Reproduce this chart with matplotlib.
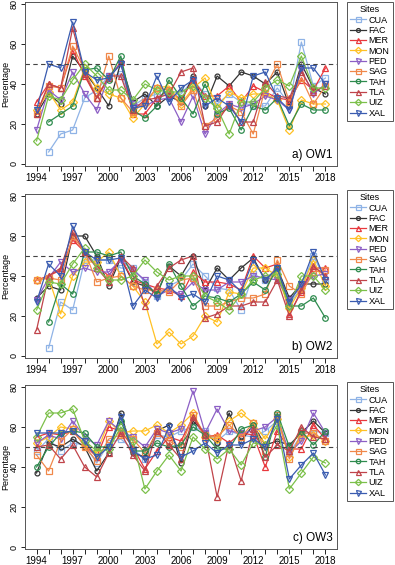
import numpy as np
import matplotlib
matplotlib.use("Agg")
import matplotlib.pyplot as plt

plt.rcParams['font.family'] = ['Liberation Sans', 'DejaVu Sans']

nan = np.nan
YEARS = list(range(1994, 2019))
SITES = ['CUA', 'FAC', 'MER', 'MON', 'PED', 'SAG', 'TAH', 'TLA', 'UIZ', 'XAL']
COLORS = ['#8fb3e6', '#333333', '#e8383d', '#ffc125', '#8c5fc5',
          '#f0884a', '#2e8b4e', '#c0444a', '#7cc04a', '#3a5cb0']
MARKERS = ['s', 'o', '^', 'D', 'v', 's', 'o', '^', 'D', 'v']
MSIZES = [4.5, 3.5, 4.5, 4, 4.5, 4.5, 4, 4.5, 4, 4.5]

# OW1
OW1_CUA = [nan, 6, 15, 17, 33, 37, 44, 45, 29, 33, 35, 34, 35, 42, 35, 30, 35, 31, 29, 29, 38, 30, 61, 39, 43]
OW1_FAC = [25, 35, 30, 54, 46, 38, 29, 51, 31, 35, 29, 34, 31, 44, 29, 44, 39, 46, 44, 40, 46, 29, 50, 38, 35]
OW1_MER = [31, 40, 38, 57, 44, 33, 43, 51, 25, 25, 33, 37, 32, 42, 34, 34, 39, 31, 39, 36, 33, 32, 42, 37, 48]
OW1_MON = [27, 36, 27, 31, 48, 38, 35, 33, 23, 30, 38, 39, 30, 38, 43, 28, 36, 33, 35, 35, 32, 17, 32, 30, 30]
OW1_PED = [17, 37, 32, 46, 35, 27, 44, 50, 30, 29, 32, 33, 21, 34, 15, 25, 30, 28, 30, 34, 32, 27, 47, 35, 40]
OW1_SAG = [25, 39, 38, 59, 47, 33, 54, 33, 26, 31, 38, 37, 29, 37, 19, 23, 29, 26, 15, 38, 50, 31, 43, 30, 39]
OW1_TAH = [nan, 21, 25, 29, 47, 48, 42, 54, 27, 23, 29, 42, 33, 25, 40, 25, 28, 17, 29, 27, 33, 19, 30, 27, 27]
OW1_TLA = [25, 40, 38, 68, 45, 33, 44, 44, 27, 32, 33, 35, 46, 48, 19, 21, 30, 21, 21, 41, 34, 33, 46, 36, 39]
OW1_UIZ = [11.5, 34, 32, 42, 50, 44, 37, 37, 32, 40, 37, 36, 36, 39, 33, 28, 15, 31, 31, 38, 42, 39, 54, 38, 38]
OW1_XAL = [27, 50, 48, 71, 46, 42, 43, 50, 28, 29, 44, 31, 38, 42, 29, 33, 29, 21, 44, 46, 33, 27, 48, 48, 40]

# OW2
OW2_CUA = [nan, 4, 27, 23, 48, 48, 48, 44, 44, 37, 30, 35, 38, 46, 40, 34, 33, 23, 41, 38, 42, 26, 34, 50, 38]
OW2_FAC = [29, 35, 33, 60, 60, 50, 35, 49, 37, 35, 31, 45, 40, 50, 33, 44, 38, 44, 49, 38, 44, 29, 36, 36, 36]
OW2_MER = [38, 40, 43, 58, 52, 45, 40, 49, 38, 36, 34, 33, 30, 42, 37, 37, 36, 33, 50, 44, 46, 21, 32, 44, 44]
OW2_MON = [38, 39, 21, 40, 47, 47, 52, 40, 35, 27, 6, 12, 6, 10, 20, 17, 32, 31, 44, 44, 40, 24, 34, 48, 35]
OW2_PED = [28, 39, 47, 42, 44, 42, 42, 48, 43, 38, 30, 33, 31, 37, 33, 33, 37, 37, 40, 39, 38, 28, 35, 40, 41]
OW2_SAG = [38, 39, 38, 60, 52, 37, 39, 40, 35, 33, 33, 32, 38, 39, 25, 25, 27, 29, 29, 31, 48, 35, 31, 42, 43]
OW2_TAH = [nan, 17, 36, 31, 52, 52, 50, 52, 40, 36, 31, 46, 35, 25, 30, 29, 27, 31, 37, 33, 44, 25, 25, 29, 19]
OW2_TLA = [13, 40, 44, 62, 52, 44, 37, 50, 44, 25, 35, 44, 48, 50, 19, 21, 25, 25, 27, 27, 38, 20, 33, 45, 40]
OW2_UIZ = [23, 37, 36, 46, 54, 44, 38, 38, 40, 48, 42, 38, 40, 40, 30, 27, 23, 31, 38, 40, 41, 25, 40, 40, 33]
OW2_XAL = [27, 46, 40, 65, 52, 48, 48, 49, 25, 33, 29, 35, 29, 31, 27, 40, 38, 32, 48, 38, 44, 27, 36, 52, 38]

# OW3
OW3_CUA = [48, 54, 48, 52, 51, 42, 52, 54, 49, 44, 56, 55, 58, 60, 58, 53, 58, 56, 55, 58, 63, 47, 56, 58, 57]
OW3_FAC = [37, 52, 50, 54, 50, 38, 47, 67, 47, 45, 58, 61, 42, 63, 57, 52, 67, 53, 61, 51, 53, 51, 57, 63, 57]
OW3_MER = [55, 57, 56, 58, 51, 45, 60, 58, 50, 39, 48, 55, 53, 65, 55, 56, 52, 57, 56, 40, 58, 49, 49, 61, 54]
OW3_MON = [52, 55, 60, 59, 51, 47, 63, 57, 58, 58, 61, 57, 61, 67, 55, 54, 63, 67, 62, 54, 64, 45, 55, 56, 53]
OW3_PED = [52, 56, 54, 63, 55, 51, 63, 58, 55, 50, 59, 57, 59, 78, 57, 69, 58, 57, 58, 60, 65, 47, 53, 67, 57]
OW3_SAG = [46, 38, 53, 59, 50, 43, 54, 56, 54, 47, 57, 53, 50, 66, 56, 55, 61, 55, 62, 48, 66, 44, 57, 57, 53]
OW3_TAH = [40, 50, 57, 58, 57, 50, 50, 63, 48, 48, 52, 50, 51, 60, 56, 49, 49, 59, 61, 45, 67, 50, 58, 51, 58]
OW3_TLA = [50, 51, 44, 51, 40, 35, 47, 57, 46, 38, 58, 51, 44, 65, 56, 25, 52, 33, 59, 45, 51, 48, 60, 55, 54]
OW3_UIZ = [55, 67, 67, 69, 53, 48, 49, 60, 53, 29, 38, 46, 38, 55, 49, 44, 49, 41, 52, 51, 61, 29, 37, 45, 42]
OW3_XAL = [57, 57, 57, 58, 53, 45, 50, 65, 48, 44, 46, 60, 45, 48, 52, 47, 51, 51, 54, 50, 64, 34, 41, 47, 36]

PANELS = [
    ('a) OW1', [OW1_CUA, OW1_FAC, OW1_MER, OW1_MON, OW1_PED, OW1_SAG, OW1_TAH, OW1_TLA, OW1_UIZ, OW1_XAL]),
    ('b) OW2', [OW2_CUA, OW2_FAC, OW2_MER, OW2_MON, OW2_PED, OW2_SAG, OW2_TAH, OW2_TLA, OW2_UIZ, OW2_XAL]),
    ('c) OW3', [OW3_CUA, OW3_FAC, OW3_MER, OW3_MON, OW3_PED, OW3_SAG, OW3_TAH, OW3_TLA, OW3_UIZ, OW3_XAL]),
]

W, H = 395, 565
fig = plt.figure(figsize=(W / 100, H / 100), dpi=100)

# pixel boxes (top, bottom) of each panel and legend top
boxes = [(2, 166, 2), (194, 358, 190), (385, 549, 382)]
left, right = 25, 337

for (label, series), (top, bot, leg_top) in zip(PANELS, boxes):
    ax = fig.add_axes([left / W, 1 - bot / H, (right - left) / W, (bot - top) / H])
    for name, vals, c, m, ms in zip(SITES, series, COLORS, MARKERS, MSIZES):
        ax.plot(YEARS, vals, color=c, marker=m, markersize=ms, markerfacecolor='none',
                markeredgewidth=0.9, linewidth=0.9, label=name)
    ax.axhline(50, color='#444444', linestyle=(0, (4, 3)), linewidth=0.8)
    ax.set_xlim(1993.04, 2018.96)
    ax.set_ylim(-1, 81)
    ax.set_xticks(YEARS)
    ax.set_xticklabels([str(y) if (y - 1994) % 3 == 0 else '' for y in YEARS], fontsize=7)
    ax.set_yticks([0, 20, 40, 60, 80])
    ax.set_yticklabels(['0', '20', '40', '60', '80'], rotation=90, va='center', fontsize=6.5)
    ax.tick_params(axis='x', length=3.5, width=0.6, pad=1.5)
    ax.tick_params(axis='y', length=3, width=0.6, pad=1.5)
    ax.set_ylabel('Percentage', fontsize=6.5)
    ax.yaxis.set_label_coords((10 - left) / (right - left), 0.5)
    for s in ax.spines.values():
        s.set_linewidth(0.7)
        s.set_color('#555555')
    ax.text(0.985, 0.03, label, transform=ax.transAxes, ha='right', va='bottom', fontsize=8.5)
    leg = ax.legend(loc='upper left', bbox_to_anchor=(347 / W, 1 - leg_top / H),
                    bbox_transform=fig.transFigure, title='Sites', fontsize=6.5,
                    title_fontsize=6.5, handlelength=1.8, handletextpad=0.25,
                    labelspacing=0.15, borderpad=0.35, borderaxespad=0, fancybox=False,
                    edgecolor='#555555', framealpha=1, markerscale=0.8)
    leg.get_frame().set_linewidth(0.7)

fig.savefig('out.png', dpi=100)
